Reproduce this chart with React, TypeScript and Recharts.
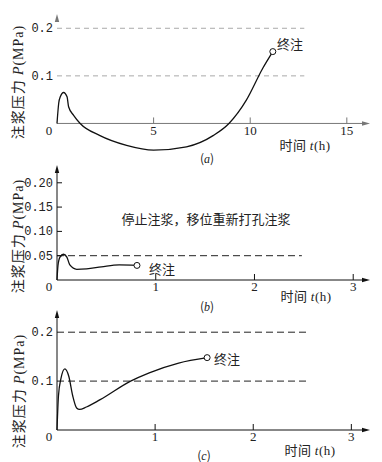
import React from "react";
import { LineChart, Line, XAxis, YAxis, ReferenceLine, ReferenceDot } from "recharts";

// (a) 长时间注浆
const timeA = [0, 0.09, 0.17, 0.34, 0.52, 0.6, 0.86, 1.2, 2.2, 3.6, 5.0, 6.7, 8.1, 8.9, 9.8, 10.65, 11.17];
const pressA = [0, 0.043, 0.056, 0.065, 0.056, 0.035, 0.017, 0, -0.025, -0.046, -0.056, -0.049, -0.025, 0, 0.049, 0.116, 0.151];
const xTicksA = [0, 5, 10, 15];
const yTicksA = [0.1, 0.2];
const dashA = [0.1, 0.2];

// (b) 停止注浆
const timeB = [0, 0.01, 0.03, 0.065, 0.1, 0.13, 0.2, 0.3, 0.45, 0.63, 0.81];
const pressB = [0, 0.03, 0.047, 0.053, 0.047, 0.031, 0.022, 0.023, 0.027, 0.031, 0.03];
const xTicksB = [0, 1, 2, 3];
const yTicksB = [0.05, 0.1, 0.15, 0.2];
const dashB = [0.05];

// (c)
const timeC = [0, 0.015, 0.04, 0.08, 0.12, 0.16, 0.2, 0.23, 0.3, 0.44, 0.75, 0.94, 1.24, 1.53];
const pressC = [0, 0.07, 0.105, 0.125, 0.11, 0.07, 0.045, 0.042, 0.047, 0.062, 0.1, 0.117, 0.137, 0.148];
const xTicksC = [0, 1, 2, 3];
const yTicksC = [0.1, 0.2];
const dashC = [0.1, 0.2];

const CJK = '"Noto Sans CJK SC", sans-serif';
const SERIF = '"Liberation Serif", serif';
const MONO = '"Liberation Mono", monospace';

const toRows = (ts: number[], ps: number[]) => ts.map((t, i) => ({ t, p: ps[i] }));

const arrowAxis = (color: string, showLine: boolean) => (props: any) => {
  const { x1, y1, x2, y2 } = props;
  const dx = x2 - x1, dy = y2 - y1;
  const len = Math.sqrt(dx * dx + dy * dy) || 1;
  const ux = dx / len, uy = dy / len;
  const L = 8, W = 2.2;
  const bx = x2 - ux * L, by = y2 - uy * L;
  const pts = `${x2},${y2} ${bx - uy * W},${by + ux * W} ${bx + uy * W},${by - ux * W}`;
  return (
    <g>
      {showLine && <line x1={x1} y1={y1} x2={bx} y2={by} stroke={color} strokeWidth={1} />}
      <polygon points={pts} fill={color} />
    </g>
  );
};

const xTickMark = (label: string, color: string, first: boolean, dy: number) => (props: any) => {
  const { cx, cy } = props;
  return (
    <g>
      {!first && <line x1={cx} y1={cy} x2={cx} y2={cy - 6} stroke={color} strokeWidth={1} />}
      <text x={first ? cx - 8 : cx} y={cy + dy} textAnchor="middle" fontFamily={SERIF} fontSize={13} fill="#222">
        {label}
      </text>
    </g>
  );
};

const yTick = (digits: number, inward: boolean) => (props: any) => {
  const { x, y, payload } = props;
  return (
    <g>
      {inward && <line x1={x + 4} y1={y} x2={x + 9} y2={y} stroke="#111" strokeWidth={1} />}
      <text x={x} y={y + 4} textAnchor="end" fontFamily={MONO} fontSize={12} fill="#222">
        {payload.value.toFixed(digits)}
      </text>
    </g>
  );
};

type PanelProps = {
  top: number;
  height: number;
  margin: { top: number; right: number; bottom: number; left: number };
  rows: { t: number; p: number }[];
  xMax: number;
  yDomain: [number, number];
  xTicks: number[];
  yTicks: number[];
  dashes: number[];
  dashEnd: number;
  axisColor: string;
  dashColor: string;
  dashArray: string;
  showYLine: boolean;
  digits: number;
  inward: boolean;
  labelDy: number;
};

function Panel(p: PanelProps) {
  const last = p.rows[p.rows.length - 1];
  return (
    <div style={{ position: "absolute", left: 0, top: p.top }}>
      <LineChart width={382} height={p.height} data={p.rows} margin={p.margin}>
        <XAxis type="number" dataKey="t" domain={[0, p.xMax]} hide />
        <YAxis
          type="number"
          domain={p.yDomain}
          ticks={p.yTicks}
          width={57}
          axisLine={false}
          tickLine={false}
          tickSize={0}
          tickMargin={4}
          allowDataOverflow
          tick={yTick(p.digits, p.inward)}
        />
        {p.dashes.map((v) => (
          <ReferenceLine
            key={`d${v}`}
            segment={[{ x: 0, y: v }, { x: p.dashEnd, y: v }]}
            stroke={p.dashColor}
            strokeWidth={1}
            strokeDasharray={p.dashArray}
          />
        ))}
        <ReferenceLine
          segment={[{ x: 0, y: 0 }, { x: p.xMax, y: 0 }]}
          shape={arrowAxis(p.axisColor, true)}
        />
        <ReferenceLine
          segment={[{ x: 0, y: 0 }, { x: 0, y: p.yDomain[1] }]}
          shape={arrowAxis(p.axisColor, p.showYLine)}
        />
        {p.xTicks.map((t, i) => (
          <ReferenceDot key={`x${t}`} x={t} y={0} r={1} shape={xTickMark(String(t), p.axisColor, i === 0, p.labelDy)} />
        ))}
        <Line type="monotone" dataKey="p" stroke="#111" strokeWidth={1.3} dot={false} isAnimationActive={false} />
        <ReferenceDot x={last.t} y={last.p} r={3} fill="#fff" stroke="#111" strokeWidth={1} />
      </LineChart>
    </div>
  );
}

const Txt = ({ x, y, size = 13, children, rotate = false, spacing = 0 }: any) => (
  <div
    style={{
      position: "absolute",
      left: x,
      top: y,
      fontSize: size,
      fontFamily: CJK,
      color: "#222",
      whiteSpace: "nowrap",
      lineHeight: 1,
      letterSpacing: spacing,
      transform: rotate ? "translate(-50%,-50%) rotate(-90deg)" : "translate(-50%,-50%)",
    }}
  >
    {children}
  </div>
);

const YTitle = () => (
  <span>
    注浆压力 <i style={{ fontFamily: SERIF }}>P</i>
    <span style={{ fontFamily: SERIF }}>(MPa)</span>
  </span>
);

const XTitle = () => (
  <span>
    时间 <i style={{ fontFamily: SERIF }}>t</i>
    <span style={{ fontFamily: SERIF }}>(h)</span>
  </span>
);

export default function App() {
  return (
    <div style={{ position: "absolute", left: 0, top: 0, width: 382, height: 462, background: "#fff", overflow: "hidden" }}>
      <Panel
        top={0}
        height={170}
        margin={{ top: 14, right: 12, bottom: 18, left: 0 }}
        rows={toRows(timeA, pressA)}
        xMax={16.2}
        yDomain={[-0.06, 0.23]}
        xTicks={xTicksA}
        yTicks={yTicksA}
        dashes={dashA}
        dashEnd={12.8}
        axisColor="#777"
        dashColor="#aaa"
        dashArray="5 4"
        showYLine={false}
        digits={1}
        inward={false}
        labelDy={12}
      />
      <Panel
        top={150}
        height={150}
        margin={{ top: 15, right: 12, bottom: 20, left: 0 }}
        rows={toRows(timeB, pressB)}
        xMax={3.17}
        yDomain={[0, 0.2366]}
        xTicks={xTicksB}
        yTicks={yTicksB}
        dashes={dashB}
        dashEnd={2.48}
        axisColor="#111"
        dashColor="#222"
        dashArray="7 4"
        showYLine={true}
        digits={2}
        inward={true}
        labelDy={11}
      />
      <Panel
        top={300}
        height={150}
        margin={{ top: 10, right: 12, bottom: 20, left: 0 }}
        rows={toRows(timeC, pressC)}
        xMax={3.19}
        yDomain={[0, 0.2454]}
        xTicks={xTicksC}
        yTicks={yTicksC}
        dashes={dashC}
        dashEnd={2.54}
        axisColor="#111"
        dashColor="#222"
        dashArray="7 4"
        showYLine={true}
        digits={1}
        inward={false}
        labelDy={11}
      />

      <Txt x={18} y={82} size={14} spacing={1} rotate><YTitle /></Txt>
      <Txt x={18} y={236} size={14} spacing={1} rotate><YTitle /></Txt>
      <Txt x={19} y={391} size={14} spacing={1} rotate><YTitle /></Txt>

      <Txt x={305} y={145} spacing={0.5}><XTitle /></Txt>
      <Txt x={306} y={296} spacing={0.5}><XTitle /></Txt>
      <Txt x={310} y={450} spacing={0.5}><XTitle /></Txt>

      <Txt x={207} y={158} size={12}>(<i style={{ fontFamily: SERIF }}>a</i>)</Txt>
      <Txt x={207} y={306} size={12}>(<i style={{ fontFamily: SERIF }}>b</i>)</Txt>
      <Txt x={204} y={455} size={12}>(<i style={{ fontFamily: SERIF }}>c</i>)</Txt>

      <Txt x={290} y={43}>终注</Txt>
      <Txt x={162} y={268}>终注</Txt>
      <Txt x={227} y={358}>终注</Txt>

      <Txt x={206} y={218}>停止注浆，移位重新打孔注浆</Txt>
    </div>
  );
}
